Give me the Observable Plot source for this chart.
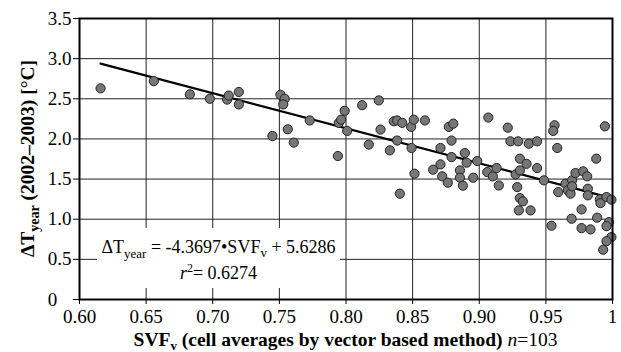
<!DOCTYPE html>
<html>
<head>
<meta charset="utf-8">
<script src="https://cdn.jsdelivr.net/npm/d3@7"></script>
<script src="https://cdn.jsdelivr.net/npm/@observablehq/plot@0.6"></script>
<style>
  html, body { margin: 0; padding: 0; background: white; }
  #chart { width: 621px; height: 352px; }
  #chart svg, #chart svg text, #chart svg tspan { font-family: 'Liberation Serif', 'Times New Roman', serif !important; }
</style>
</head>
<body>
<div id="chart"></div>
<script>
// Data (SVF_v vs ΔT_year)
const svf = [
  0.6158, 0.6558, 0.6828, 0.6978, 0.7108, 0.7120, 0.7196, 0.7196,
  0.7448, 0.7508, 0.7540, 0.7529, 0.7563, 0.7608, 0.7728, 0.7939, 0.7946, 0.7964, 0.7990, 0.8009, 0.8121, 0.8171,
  0.8246, 0.8259, 0.8359, 0.8384, 0.8422, 0.8329, 0.8384, 0.8404, 0.8489, 0.8509, 0.8492, 0.8514, 0.8592, 0.8654,
  0.8709, 0.8709, 0.8722, 0.8764, 0.8772, 0.8805, 0.8792, 0.8792, 0.8855, 0.8855, 0.8877, 0.8892, 0.8905, 0.8955,
  0.8985, 0.9068, 0.9060,
  0.9214, 0.9234, 0.9292, 0.9372, 0.9434, 0.9102, 0.9130, 0.9147, 0.9273, 0.9305, 0.9305, 0.9285, 0.9355, 0.9434,
  0.9305, 0.9327, 0.9297, 0.9385, 0.9485, 0.9565, 0.9555, 0.9585, 0.9593, 0.9542, 0.9647, 0.9665, 0.9685, 0.9697,
  0.9697, 0.9722, 0.9780, 0.9810, 0.9815, 0.9815, 0.9693, 0.9768, 0.9768, 0.9835, 0.9878, 0.9885, 0.9943, 0.9905,
  0.9910, 0.9955, 0.9992, 0.9973, 0.9955, 0.9992, 0.9955, 0.9930
];
const dT = [
  2.63, 2.72, 2.556, 2.50, 2.49, 2.54, 2.585, 2.43,
  2.036, 2.55, 2.50, 2.43, 2.12, 1.954, 2.23, 1.787, 2.20, 2.24, 2.35, 2.10, 2.42, 1.93,
  2.48, 2.116, 2.22, 2.23, 2.20, 1.858, 1.98, 1.318, 2.15, 2.24, 1.887, 1.567, 2.23, 1.617,
  1.887, 1.683, 1.534, 1.455, 2.15, 2.19, 1.98, 1.774, 1.608, 1.517, 1.418, 1.824, 1.704, 1.517,
  1.724, 2.266, 1.587,
  2.14, 1.97, 1.97, 1.94, 1.97, 1.534, 1.637, 1.42, 1.558, 1.754, 1.608, 1.40, 1.69, 1.637,
  1.263, 1.222, 1.11, 1.11, 1.484, 2.17, 2.10, 1.887, 1.338, 0.919, 1.443, 1.36, 1.318, 1.484,
  1.41, 1.575, 1.596, 1.534, 1.38, 1.297, 1.006, 1.122, 0.889, 0.873, 1.754, 1.019, 2.157, 1.247,
  1.20, 1.276, 1.243, 0.964, 0.914, 0.777, 0.727, 0.62
];
const fitSlope = -4.3697;
const fitIntercept = 5.6286;
const rSquared = "0.6274";
const nPoints = 103;
const xTicks = [0.60, 0.65, 0.70, 0.75, 0.80, 0.85, 0.90, 0.95, 1.00];
const yTicks = [0, 0.5, 1.0, 1.5, 2.0, 2.5, 3.0, 3.5];

const points = svf.map((x, i) => ({x, y: dT[i]}));
const xExt = d3.extent(svf);
const fitPts = [xExt[0], 1.0].map(x => ({x, y: fitSlope * x + fitIntercept}));
// white annotation box behind the equation (data units)
const eqBox = [{x1: 0.6135, x2: 0.7959, y1: 0.137, y2: 0.885}];

const FONT = "'Liberation Serif', 'Times New Roman', serif";

const plot = Plot.plot({
  width: 621,
  height: 352,
  marginLeft: 79,
  marginRight: 9,
  marginTop: 18,
  marginBottom: 53,
  style: {fontFamily: FONT, fontSize: "18px", color: "black", background: "white", overflow: "visible"},
  x: {domain: [0.6, 1.0]},
  y: {domain: [0, 3.5]},
  marks: [
    Plot.gridX(xTicks, {stroke: "#222", strokeOpacity: 1, strokeWidth: 1}),
    Plot.gridY(yTicks, {stroke: "#222", strokeOpacity: 1, strokeWidth: 1}),
    Plot.rect(eqBox, {x1: "x1", x2: "x2", y1: "y1", y2: "y2", fill: "white"}),
    Plot.line(fitPts, {x: "x", y: "y", stroke: "black", strokeWidth: 2.2}),
    Plot.dot(points, {x: "x", y: "y", r: 4.6, fill: "#767676", stroke: "#222", strokeWidth: 1}),
    Plot.frame({stroke: "black", strokeWidth: 2}),
    Plot.axisX(xTicks, {tickFormat: d => d === 1 ? "1" : d.toFixed(2), tickSize: 5, tickPadding: 5, label: null, fontSize: 19, fontFamily: FONT}),
    // "0" is set left-aligned with the other labels, as in the reference (padded with figure/punctuation spaces)
    Plot.axisY(yTicks, {tickFormat: d => d === 0 ? "0\u2008\u2007" : d.toFixed(1), tickSize: 6, tickPadding: 2, label: null, fontSize: 19, fontFamily: FONT})
  ]
});

document.getElementById("chart").appendChild(plot);

const svg = d3.select(plot);
// make sure every tick label uses the serif face
svg.selectAll("text").style("font-family", FONT).style("font-variant", "normal");

const sx = plot.scale("x");
const sy = plot.scale("y");

// X axis title
const xt = svg.append("text")
  .attr("x", (sx.apply(0.6) + sx.apply(1.0)) / 2)
  .attr("y", 346)
  .attr("text-anchor", "middle")
  .style("font-family", FONT)
  .style("font-size", "19.5px")
  .attr("fill", "black");
xt.append("tspan").attr("font-weight", "bold").text("SVF");
xt.append("tspan").attr("font-weight", "bold").attr("dy", 4).style("font-size", "13px").text("v");
xt.append("tspan").attr("font-weight", "bold").attr("dy", -4).text(" (cell averages by vector based method)");
xt.append("tspan").attr("font-style", "italic").text(" n");
xt.append("tspan").text("=" + nPoints);

// Y axis title
const yt = svg.append("text")
  .attr("transform", `translate(34, ${(sy.apply(0) + sy.apply(3.5)) / 2}) rotate(-90)`)
  .attr("text-anchor", "middle")
  .style("font-family", FONT)
  .style("font-size", "19.5px")
  .attr("font-weight", "bold")
  .attr("fill", "black");
yt.append("tspan").text("ΔT");
yt.append("tspan").attr("dy", 5).style("font-size", "14px").text("year");
yt.append("tspan").attr("dy", -5).text(" (2002–2003) [°C]");

// Equation text
const cx = (sx.apply(0.6135) + sx.apply(0.7959)) / 2;
const eq = svg.append("text")
  .attr("x", cx).attr("y", 253)
  .attr("text-anchor", "middle")
  .style("font-family", FONT)
  .style("font-size", "18px")
  .attr("fill", "black");
eq.append("tspan").text("ΔT");
eq.append("tspan").attr("dy", 5).style("font-size", "13px").text("year");
eq.append("tspan").attr("dy", -5).text(` = ${fitSlope}•SVF`);
eq.append("tspan").attr("dy", 4).style("font-size", "13px").text("v");
eq.append("tspan").attr("dy", -4).text(` + ${fitIntercept}`);

const r2 = svg.append("text")
  .attr("x", cx).attr("y", 279)
  .attr("text-anchor", "middle")
  .style("font-family", FONT)
  .style("font-size", "18px")
  .attr("fill", "black");
r2.append("tspan").attr("font-style", "italic").text("r");
r2.append("tspan").attr("dy", -7).style("font-size", "12px").text("2");
r2.append("tspan").attr("dy", 7).text("= " + rSquared);
</script>
</body>
</html>
